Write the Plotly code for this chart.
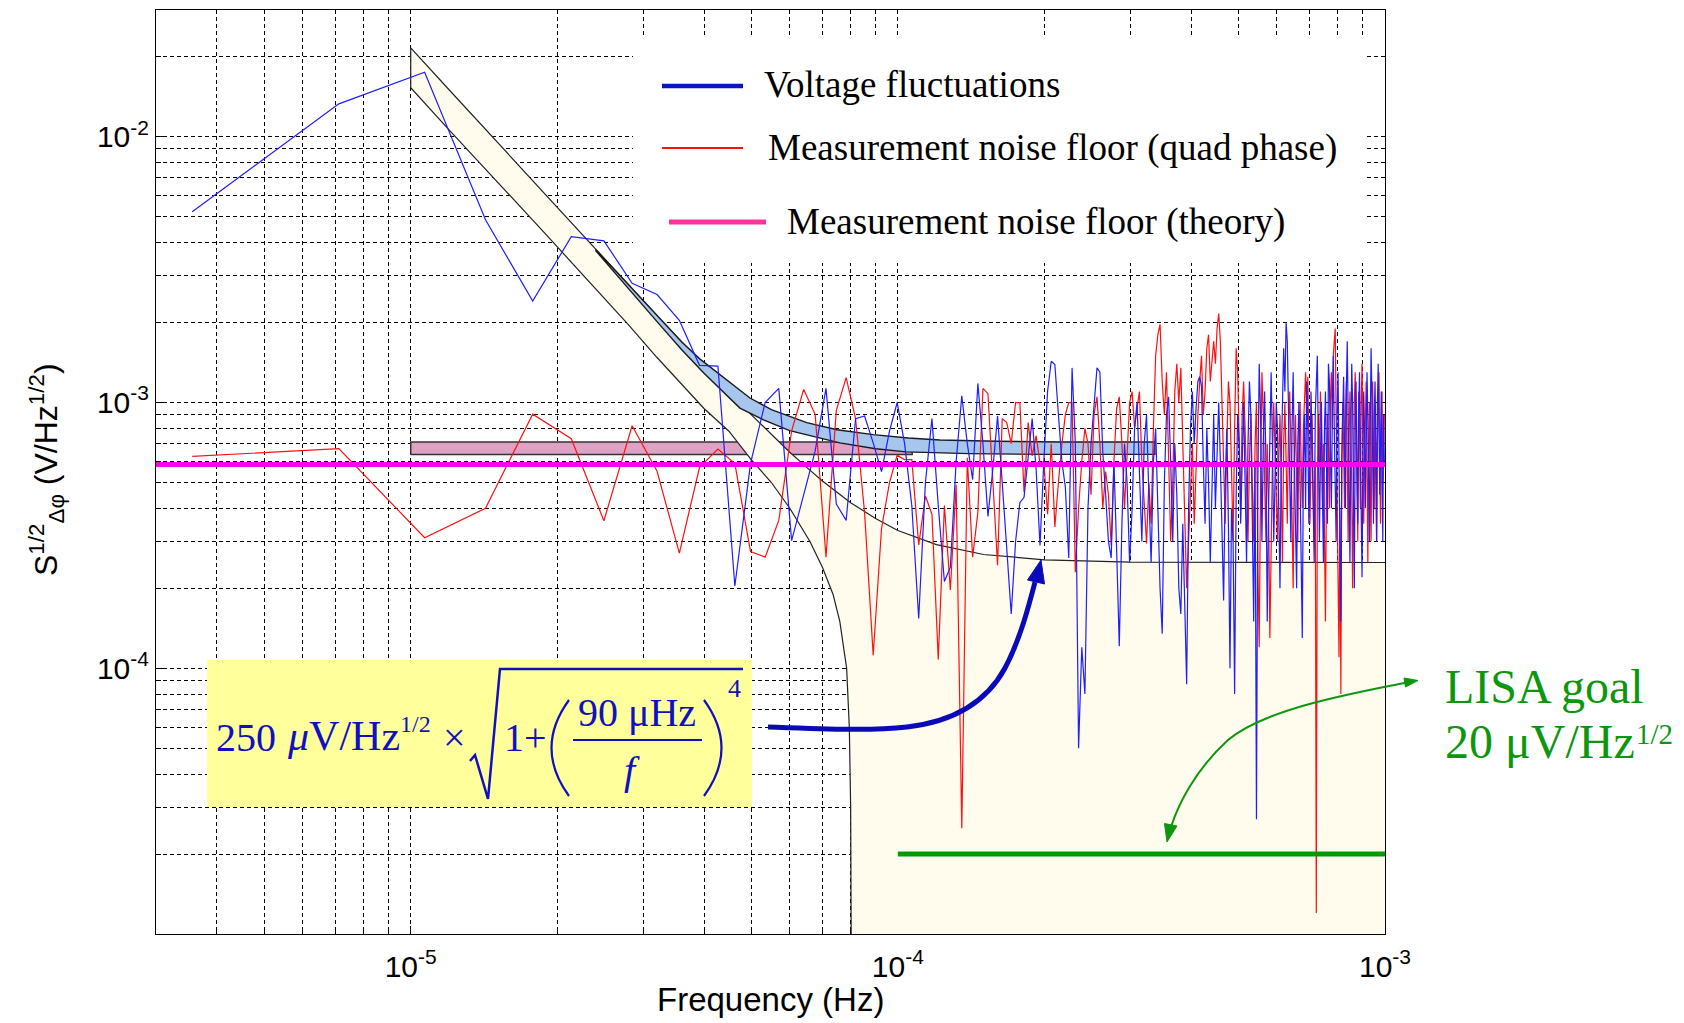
import numpy as np
import plotly.graph_objects as go

# ---------------- data ----------------
BIN_WIDTH_UHZ = 3.56   # spectral resolution of both spectra (µHz)
N_BINS = 280

# Voltage fluctuations (blue), µV/Hz^1/2, bins 1..280
voltage_fluct_uV = [
    5220, 13300, 17500, 4870, 2410, 4210, 4060, 2810, 2550, 2040,
    1380, 1370, 204, 590, 1000, 1130, 302, 445, 656, 1130,
    415, 360, 870, 890, 705, 550, 780, 1000, 700, 410,
    154, 500, 870, 410, 212, 240, 600, 1060, 700, 513,
    1180, 700, 373, 560, 890, 500, 280, 160, 300, 420,
    440, 640, 870, 560, 290, 600, 1100, 1430, 1390, 900,
    600, 480, 260, 1350, 700, 50, 120, 80, 400, 700,
    1000, 1350, 1300, 650, 450, 300, 260, 600, 280, 121,
    350, 700, 500, 250, 400, 800, 1000, 550, 300, 700,
    900, 450, 250, 600, 800, 400, 200, 135, 500, 900,
    1050, 600, 300, 700, 450, 200, 160, 350, 150, 87,
    400, 800, 1100, 700, 950, 1200, 1250, 1150, 600, 350,
    800, 500, 250, 550, 900, 400, 700, 1000, 600, 300,
    180, 500, 800, 350, 100, 400, 300, 80, 450, 900,
    700, 350, 600, 1000, 500, 250, 700, 1200, 900, 400,
    150, 600, 27, 500, 1400, 900, 300, 700, 1100, 600,
    150, 400, 900, 1300, 700, 300, 500, 1000, 800, 400,
    200, 600, 1200, 1600, 1100, 2000, 1700, 900, 500, 300,
    800, 1300, 600, 350, 200, 700, 1000, 500, 300, 130,
    600, 900, 400, 1200, 800, 350, 600, 1100, 700, 400,
    250, 900, 1300, 1500, 700, 300, 600, 1000, 450, 250,
    800, 1100, 600, 350, 1400, 1200, 700, 400, 900, 1500,
    800, 500, 300, 900, 1300, 600, 350, 150, 600, 1000,
    1250, 700, 400, 1100, 1700, 900, 500, 250, 700, 1400,
    1000, 450, 200, 800, 1200, 600, 350, 900, 1300, 700,
    400, 220, 600, 1100, 800, 400, 700, 1300, 900, 500,
    300, 800, 1600, 1100, 600, 350, 900, 1200, 700, 300,
    1000, 1400, 800, 450, 700, 1100, 500, 300, 900, 600,
]

# Measurement noise floor, quad phase (red), µV/Hz^1/2, bins 1..280
quad_phase_uV = [
    627, 671, 310, 400, 904, 731, 359, 818, 551, 271,
    570, 668, 589, 275, 262, 360, 783, 1120, 903, 262,
    935, 1240, 870, 386, 112, 335, 500, 634, 610, 610,
    291, 445, 380, 108, 410, 197, 490, 25, 620, 262,
    386, 1130, 1080, 500, 244, 870, 840, 700, 1000, 1000,
    460, 840, 630, 750, 590, 600, 380, 700, 340, 500,
    700, 900, 1000, 1000, 230, 400, 600, 800, 700, 450,
    900, 1050, 700, 400, 550, 450, 290, 600, 950, 1050,
    700, 400, 600, 1000, 1100, 800, 950, 1100, 600, 400,
    295, 500, 350, 800, 1500, 1800, 1970, 1200, 900, 1300,
    600, 300, 500, 1100, 1400, 1000, 1350, 700, 350, 200,
    300, 500, 700, 350, 600, 900, 1200, 1500, 900, 1100,
    1600, 1800, 1200, 1500, 1700, 1400, 1900, 2160, 1700, 1000,
    600, 350, 700, 1200, 1000, 500, 300, 800, 1600, 1300,
    700, 400, 900, 1200, 800, 500, 300, 600, 900, 500,
    300, 700, 1000, 250, 120, 500, 1300, 900, 500, 300,
    700, 400, 130, 350, 600, 1000, 700, 450, 300, 600,
    900, 500, 250, 700, 1000, 600, 350, 800, 1100, 700,
    400, 200, 600, 900, 500, 300, 700, 1000, 600, 400,
    800, 1100, 1300, 900, 1250, 700, 350, 600, 900, 450,
    300, 600, 12, 500, 900, 600, 1100, 800, 400, 700,
    250, 150, 500, 900, 700, 400, 1000, 1300, 800, 1500,
    1700, 1900, 900, 500, 300, 110, 400, 80, 600, 1000,
    700, 400, 900, 1200, 600, 300, 700, 1100, 800, 500,
    200, 600, 1000, 1300, 900, 500, 300, 1100, 800, 400,
    1000, 1400, 700, 350, 600, 900, 1200, 600, 250, 700,
    1000, 500, 300, 800, 1200, 700, 400, 900, 600, 300,
    700, 1000, 1300, 600, 350, 800, 1100, 500, 700, 900,
]

# Measurement noise floor (theory), magenta line
theory_floor_uV = 585.0
theory_floor_f_uHz = [3.0, 1000.0]

# LISA goal, green line
lisa_goal_uV = 20.0
lisa_goal_f_uHz = [100.0, 1000.0]

# model envelope (beige band): upper and lower curves
model_upper_f_uHz = [10, 12, 15, 18, 20, 24, 28, 32, 36, 40, 45, 50, 55, 60, 65, 70,
                     80, 90, 100, 120, 150, 200, 300, 500, 1000]
model_upper_uV = [21600, 15000, 9600, 6680, 5410, 3760, 2770, 2125, 1690, 1375, 1100, 900,
                  760, 650, 570, 507, 420, 366, 330, 292, 268, 256, 251, 250, 250]
model_lower_f_uHz = [10, 12, 15, 18, 20, 24, 28, 32, 36, 40, 45, 50, 55, 60, 66, 70,
                     73.6, 76, 78.5, 79.5, 80.0, 80.2]
model_lower_uV = [15300, 10600, 6800, 4750, 3850, 2680, 1960, 1480, 1170, 950, 780, 610,
                  500, 400, 300, 240, 190, 150, 100, 60, 30, 10]

# fit band (light blue)
fit_upper_f_uHz = [24, 28, 32, 36, 39.2, 45, 49.7, 55, 65, 75, 89, 105, 122, 160, 215, 337]
fit_upper_uV = [3760, 2770, 2125, 1690, 1460, 1200, 1040, 940, 840, 790, 757, 735, 723,
                715, 710, 710]
fit_lower_f_uHz = [24, 28, 32, 36, 40, 47.4, 53, 60, 76, 90, 104, 140, 200, 337]
fit_lower_uV = [3720, 2680, 2020, 1580, 1290, 953, 860, 784, 705, 670, 652, 642, 638, 638]

# theory band (mauve)
theory_band_f_uHz = [10, 107]
theory_band_uV = [638, 710]

AXIS_BOTTOM_UV = 10.0

x_tickvals = [1e-5, 1e-4, 1e-3]
x_ticktext = ["10<sup>-5</sup>", "10<sup>-4</sup>", "10<sup>-3</sup>"]
y_tickvals = [1e-4, 1e-3, 1e-2]
y_ticktext = ["10<sup>-4</sup>", "10<sup>-3</sup>", "10<sup>-2</sup>"]

legend_labels = ["Voltage fluctuations",
                 "Measurement noise floor (quad phase)",
                 "Measurement noise floor (theory)"]

# ---------------- helpers ----------------
def hz(a):
    return np.asarray(a, dtype=float) * 1e-6

def volts(a):
    return np.asarray(a, dtype=float) * 1e-6

f_bins = np.arange(1, N_BINS + 1) * BIN_WIDTH_UHZ * 1e-6

# plot area in pixels
PL, PR, PT, PB = 156, 1385, 10, 934
W, H = 1684, 1023


def px(X):
    return (X - PL) / (PR - PL)


def py(Y):
    return (PB - Y) / (PB - PT)


def path(points):
    (x0, y0) = points[0]
    s = "M %.5f %.5f" % (px(x0), py(y0))
    rest = points[1:]
    for i in range(0, len(rest), 3):
        a, b, c = rest[i], rest[i + 1], rest[i + 2]
        s += " C %.5f %.5f, %.5f %.5f, %.5f %.5f" % (px(a[0]), py(a[1]), px(b[0]), py(b[1]),
                                                    px(c[0]), py(c[1]))
    return s


def poly(points):
    s = "M %.5f %.5f" % (px(points[0][0]), py(points[0][1]))
    for (a, b) in points[1:]:
        s += " L %.5f %.5f" % (px(a), py(b))
    return s + " Z"


SERIF = "Liberation Serif"
SANS = "Liberation Sans"
BLUE_TXT = "#1010C0"
ARROW_BLUE = "#0A0AB8"
GREEN = "#0E960E"

fig = go.Figure()

# mauve theory band
tb_x = [theory_band_f_uHz[0], theory_band_f_uHz[1], theory_band_f_uHz[1], theory_band_f_uHz[0],
        theory_band_f_uHz[0]]
tb_y = [theory_band_uV[0], theory_band_uV[0], theory_band_uV[1], theory_band_uV[1],
        theory_band_uV[0]]
fig.add_trace(go.Scatter(x=hz(tb_x), y=volts(tb_y), mode="lines", fill="toself",
                         fillcolor="#DDA2C4", line=dict(color="#333333", width=1.5),
                         hoverinfo="skip"))

# beige model band
beige_x = list(model_upper_f_uHz) + [model_upper_f_uHz[-1], model_lower_f_uHz[-1]] + \
    list(reversed(model_lower_f_uHz))
beige_y = list(model_upper_uV) + [AXIS_BOTTOM_UV, AXIS_BOTTOM_UV] + list(reversed(model_lower_uV))
fig.add_trace(go.Scatter(x=hz(beige_x), y=volts(beige_y), mode="lines", fill="toself",
                         fillcolor="#FFFCEE", line=dict(width=0, color="rgba(0,0,0,0)"),
                         hoverinfo="skip"))
outline_x = list(reversed(model_lower_f_uHz)) + list(model_upper_f_uHz)
outline_y = list(reversed(model_lower_uV)) + list(model_upper_uV)
fig.add_trace(go.Scatter(x=hz(outline_x), y=volts(outline_y), mode="lines",
                         line=dict(color="#222222", width=1.2), hoverinfo="skip"))

# light-blue fit band
fit_x = list(fit_upper_f_uHz) + list(reversed(fit_lower_f_uHz)) + [fit_upper_f_uHz[0]]
fit_y = list(fit_upper_uV) + list(reversed(fit_lower_uV)) + [fit_upper_uV[0]]
fig.add_trace(go.Scatter(x=hz(fit_x), y=volts(fit_y), mode="lines", fill="toself",
                         fillcolor="#A6C6EE", line=dict(color="#1a1a1a", width=1.4),
                         hoverinfo="skip"))

# spectra
fig.add_trace(go.Scatter(x=f_bins, y=volts(quad_phase_uV), mode="lines",
                         line=dict(color="#FF1010", width=1.2), name=legend_labels[1]))
fig.add_trace(go.Scatter(x=f_bins, y=volts(voltage_fluct_uV), mode="lines",
                         line=dict(color="#1E1EFF", width=1.2), name=legend_labels[0]))

# theory floor
fig.add_trace(go.Scatter(x=hz(theory_floor_f_uHz), y=volts([theory_floor_uV] * 2), mode="lines",
                         line=dict(color="#FF00F0", width=5), name=legend_labels[2]))

# LISA goal
fig.add_trace(go.Scatter(x=hz(lisa_goal_f_uHz), y=volts([lisa_goal_uV] * 2), mode="lines",
                         line=dict(color="#009A00", width=5)))

grid = dict(showgrid=True, gridcolor="black", gridwidth=1, griddash="4px,3px")

x_minor = [m * 10.0 ** e for e in (-6, -5, -4) for m in range(2, 10) if 3e-6 < m * 10.0 ** e < 1e-3]
y_minor = [m * 10.0 ** e for e in (-5, -4, -3, -2) for m in range(2, 10) if 1e-5 < m * 10.0 ** e < 3.01e-2]

fig.update_xaxes(type="log", range=[np.log10(3e-6), -3], tickvals=x_tickvals, ticktext=x_ticktext,
                 tickfont=dict(family=SANS, size=30, color="black"), ticklabelstandoff=6,
                 showline=True, mirror=True, linecolor="black", linewidth=1,
                 ticks="inside", ticklen=8, tickcolor="black", layer="below traces",
                 minor=dict(tickvals=x_minor, ticks="inside", ticklen=5, tickcolor="black",
                            showgrid=True, gridcolor="black", gridwidth=1, griddash="4px,3px"),
                 zeroline=False, **grid)
fig.update_yaxes(type="log", range=[-5, np.log10(3e-2)], tickvals=y_tickvals, ticktext=y_ticktext,
                 tickfont=dict(family=SANS, size=30, color="black"),
                 showline=True, mirror=True, linecolor="black", linewidth=1,
                 ticks="inside", ticklen=8, tickcolor="black", layer="below traces",
                 minor=dict(tickvals=y_minor, ticks="inside", ticklen=5, tickcolor="black",
                            showgrid=True, gridcolor="black", gridwidth=1, griddash="4px,3px"),
                 zeroline=False, **grid)

shapes = []
# legend background (hides the grid)
shapes.append(dict(type="rect", xref="paper", yref="paper", x0=px(633), x1=px(1364),
                   y0=py(263), y1=py(35), fillcolor="white", line=dict(width=0), layer="above"))
# legend samples
shapes.append(dict(type="line", xref="paper", yref="paper", x0=px(662), x1=px(743), y0=py(86),
                   y1=py(86), line=dict(color="#0A14C8", width=4.5), layer="above"))
shapes.append(dict(type="line", xref="paper", yref="paper", x0=px(662), x1=px(743), y0=py(148),
                   y1=py(148), line=dict(color="#FF1010", width=2), layer="above"))
shapes.append(dict(type="line", xref="paper", yref="paper", x0=px(669), x1=px(766), y0=py(222),
                   y1=py(222), line=dict(color="#FF3399", width=5), layer="above"))
# formula box
shapes.append(dict(type="rect", xref="paper", yref="paper", x0=px(207), x1=px(752),
                   y0=py(807), y1=py(660), fillcolor="#FFFF9C", line=dict(width=0), layer="above"))
# radical sign
shapes.append(dict(type="path", xref="paper", yref="paper", layer="above",
                   path="M %.5f %.5f L %.5f %.5f L %.5f %.5f L %.5f %.5f L %.5f %.5f" % (
                       px(470), py(761), px(475), py(755), px(488), py(799), px(500), py(669),
                       px(743), py(669)),
                   line=dict(color=BLUE_TXT, width=2.5)))
# parentheses
shapes.append(dict(type="path", xref="paper", yref="paper", layer="above",
                   path="M %.5f %.5f Q %.5f %.5f %.5f %.5f" % (px(569), py(700), px(534), py(748),
                                                             px(569), py(796)),
                   line=dict(color=BLUE_TXT, width=2.2)))
shapes.append(dict(type="path", xref="paper", yref="paper", layer="above",
                   path="M %.5f %.5f Q %.5f %.5f %.5f %.5f" % (px(704), py(700), px(739), py(748),
                                                             px(704), py(796)),
                   line=dict(color=BLUE_TXT, width=2.2)))
# fraction bar
shapes.append(dict(type="line", xref="paper", yref="paper", x0=px(573), x1=px(702), y0=py(740),
                   y1=py(740), line=dict(color=BLUE_TXT, width=2), layer="above"))
# blue arrow body + head
shapes.append(dict(type="path", xref="paper", yref="paper", layer="above",
                   path=path([(768, 727), (830, 729), (870, 731), (907, 727),
                              (950, 722), (985, 705), (1005, 668),
                              (1020, 640), (1029, 605), (1035, 582)]),
                   line=dict(color=ARROW_BLUE, width=5)))
shapes.append(dict(type="path", xref="paper", yref="paper", layer="above",
                   path=poly([(1041, 560), (1044.5, 584), (1027.5, 580)]),
                   fillcolor=ARROW_BLUE, line=dict(color=ARROW_BLUE, width=1)))
# green arrow body + heads
shapes.append(dict(type="path", xref="paper", yref="paper", layer="above",
                   path=path([(1415, 681), (1330, 697), (1262, 712), (1228, 740),
                              (1195, 770), (1178, 805), (1171, 827)]),
                   line=dict(color=GREEN, width=2)))
shapes.append(dict(type="path", xref="paper", yref="paper", layer="above",
                   path=poly([(1167, 842), (1177, 826), (1164.5, 823.5)]),
                   fillcolor=GREEN, line=dict(color=GREEN, width=1)))
shapes.append(dict(type="path", xref="paper", yref="paper", layer="above",
                   path=poly([(1418, 680.5), (1405.5, 687), (1404, 678)]),
                   fillcolor=GREEN, line=dict(color=GREEN, width=1)))

annotations = []


def txt(X, Yc, s, size, color, family, xanchor="left"):
    annotations.append(dict(x=px(X), y=py(Yc), xref="paper", yref="paper", text=s,
                            showarrow=False, xanchor=xanchor, yanchor="middle",
                            font=dict(family=family, size=size, color=color)))


# legend texts
txt(762, 84, legend_labels[0], 37, "black", SERIF)
txt(766, 148, legend_labels[1], 37, "black", SERIF)
txt(785, 222, legend_labels[2], 37, "black", SERIF)

# formula
txt(214, 737, "250", 40, BLUE_TXT, SERIF)
txt(285, 736, "<i>μ</i>V/Hz", 42, BLUE_TXT, SERIF)
txt(398, 724, "1/2", 24, BLUE_TXT, SERIF)
txt(441, 737, "×", 40, BLUE_TXT, SERIF)
txt(502, 737, "1+", 40, BLUE_TXT, SERIF)
txt(637, 712, "90 μHz", 40, BLUE_TXT, SERIF, xanchor="center")
txt(632, 770, "<i>f</i>", 40, BLUE_TXT, SERIF, xanchor="center")
txt(726, 688, "4", 26, BLUE_TXT, SERIF)

# LISA text
txt(1443, 686, "LISA goal", 48, GREEN, SERIF)
txt(1443, 742, "20 μV/Hz", 48, GREEN, SERIF)
txt(1634, 734, "1/2", 29, GREEN, SERIF)

# axis titles
txt(770, 999, "Frequency (Hz)", 33, "black", SANS, xanchor="center")
annotations.append(dict(x=px(46), y=py(470), xref="paper", yref="paper",
                        text="S<sup>1/2</sup><sub>Δφ</sub> (V/Hz<sup>1/2</sup>)",
                        textangle=-90, showarrow=False, xanchor="center", yanchor="middle",
                        font=dict(family=SANS, size=32, color="black")))

fig.update_layout(width=W, height=H, autosize=False,
                  margin=dict(l=PL, r=W - PR, t=PT, b=H - PB, pad=0),
                  paper_bgcolor="white", plot_bgcolor="white", showlegend=False,
                  shapes=shapes, annotations=annotations)

fig.write_html("out.html")
